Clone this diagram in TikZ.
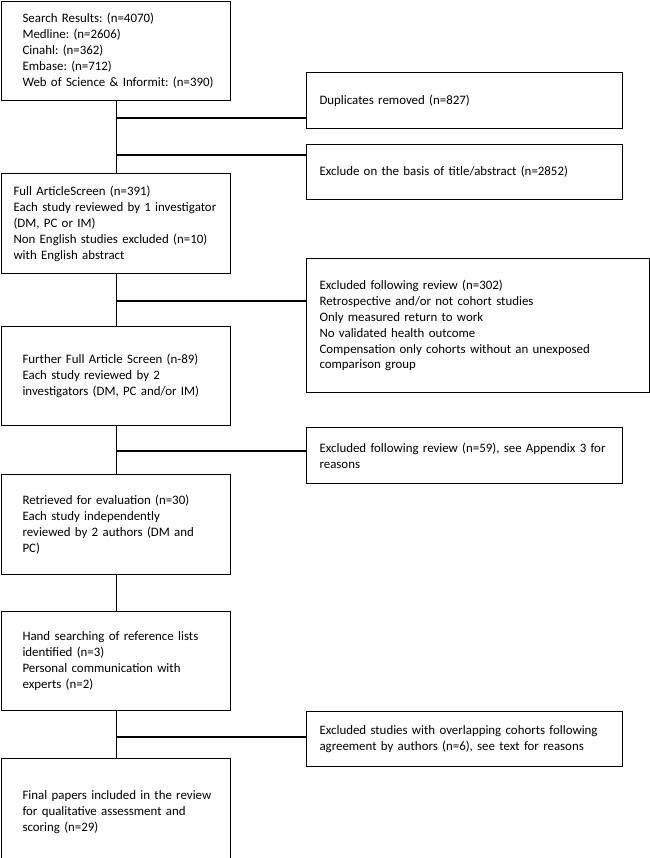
\documentclass[tikz,border=0pt]{standalone}
\usepackage{fontspec}
\setmainfont{Carlito}

\begin{document}
\begin{tikzpicture}[x = 0.03cm, y = -0.03cm, line width = 0.9pt,
                        stage/.style = {draw, rectangle, anchor = north west, align = left, inner ysep = 0pt,
                                        font = \fontsize{11}{13.6}\selectfont},
                        leftbox/.style = {stage, inner xsep = 0.36cm, text width = 6.15cm,
                                          execute at begin node = {\frenchspacing\hyphenpenalty=10000\leftskip=0.27cm\rightskip=-0.3cm plus 1fil}},
                        sidebox/.style = {stage, inner xsep = 0.39cm, text width = 8.7cm,
                                          execute at begin node = {\frenchspacing\hyphenpenalty=10000\rightskip=-0.3cm plus 1fil}}]
      \useasboundingbox (0, 0) rectangle (650, 858);

      \node [leftbox, minimum height = 2.97cm] (search) at (1, 1)
            {Search Results: (n=4070)\\ Medline: (n=2606)\\ Cinahl: (n=362)\\ Embase: (n=712)\\ Web of Science \& Informit: (n=390)};
      \node [leftbox, execute at begin node = {\leftskip=0pt}, minimum height = 3cm] (full) at (1, 173)
            {Full ArticleScreen (n=391)\\ Each study reviewed by 1 investigator\\ (DM, PC or IM)\\ Non English studies excluded (n=10)\\ with English abstract};
      \node [leftbox, minimum height = 2.97cm] (further) at (1, 326)
            {Further Full Article Screen (n-89)\\ Each study reviewed by 2\\ investigators (DM, PC and/or IM)};
      \node [leftbox, minimum height = 3cm] (retrieved) at (1, 474)
            {Retrieved for evaluation (n=30)\\ Each study independently\\ reviewed by 2 authors (DM and\\ PC)};
      \node [leftbox, minimum height = 2.97cm] (hand) at (1, 611)
            {Hand searching of reference lists\\ identified (n=3)\\ Personal communication with\\ experts (n=2)};
      \node [leftbox, minimum height = 3.24cm] (final) at (1, 758)
            {Final papers included in the review\\ for qualitative assessment and\\ scoring (n=29)\\[0.3cm]};

      \node [sidebox, minimum height = 1.68cm] (dup) at (306, 72) {Duplicates removed (n=827)};
      \node [sidebox, minimum height = 1.65cm] (title) at (306, 144) {Exclude on the basis of title/abstract (n=2852)};
      \node [sidebox, text width = 9.51cm, minimum height = 4.02cm] (review) at (306, 258)
            {Excluded following review (n=302)\\ Retrospective and/or not cohort studies\\ Only measured return to work\\
             No validated health outcome\\ Compensation only cohorts without an unexposed\\ comparison group};
      \node [sidebox, minimum height = 1.68cm] (reasons) at (306, 427)
            {Excluded following review (n=59), see Appendix 3 for\\ reasons};
      \node [sidebox, minimum height = 1.65cm] (overlap) at (306, 711)
            {Excluded studies with overlapping cohorts following\\ agreement by authors (n=6), see text for reasons};

      \coordinate (J1) at (115.5, 118);
      \coordinate (J2) at (115.5, 155);
      \coordinate (J3) at (115.5, 301);
      \coordinate (J4) at (115.5, 451);
      \coordinate (J5) at (115.5, 737);

      \draw (search) -- (full);
      \draw (full) -- (further);
      \draw (further) -- (retrieved);
      \draw (retrieved) -- (hand);
      \draw (hand) -- (final);

      \draw (J1) -- (J1 -| dup.west);
      \draw (J2) -- (J2 -| title.west);
      \draw (J3) -- (J3 -| review.west);
      \draw (J4) -- (J4 -| reasons.west);
      \draw (J5) -- (J5 -| overlap.west);
      \end{tikzpicture}
\end{document}
